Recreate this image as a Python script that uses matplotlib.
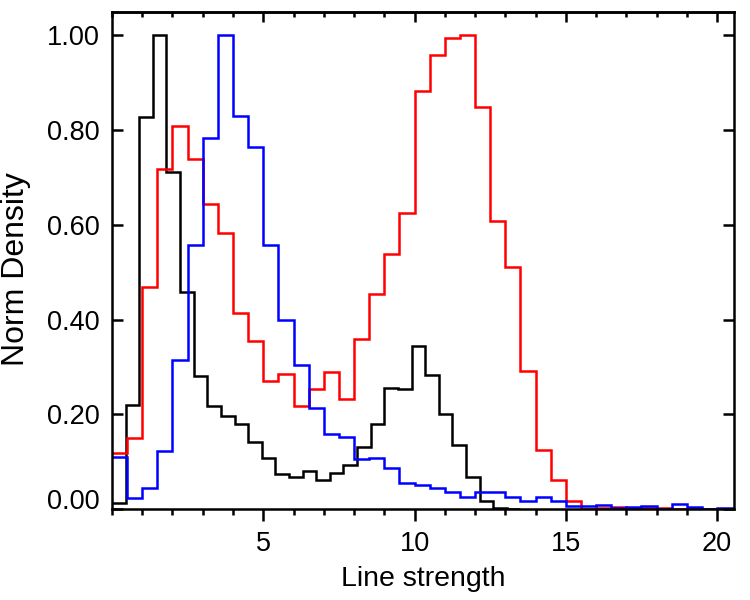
import numpy as np
import matplotlib
matplotlib.use("Agg")
import matplotlib.pyplot as plt
from matplotlib.ticker import MultipleLocator, FormatStrFormatter

plt.rcParams['font.family'] = ['Liberation Sans', 'DejaVu Sans']

# normalised histograms of line strength
black_width = 0.45
black_vals = [0.012, 0.220, 0.828, 1.0, 0.711, 0.459, 0.281, 0.218, 0.197, 0.180,
              0.142, 0.107, 0.074, 0.067, 0.081, 0.061, 0.077, 0.093, 0.130, 0.180,
              0.256, 0.253, 0.345, 0.283, 0.200, 0.136, 0.068, 0.016, 0.002, 0.001]

red_width = 0.5
red_vals = [0.118, 0.150, 0.469, 0.718, 0.809, 0.739, 0.645, 0.582, 0.413, 0.355,
            0.270, 0.286, 0.218, 0.253, 0.290, 0.232, 0.359, 0.454, 0.539, 0.624,
            0.883, 0.959, 0.994, 1.0, 0.849, 0.608, 0.511, 0.292, 0.125, 0.061,
            0.016, 0.0, 0.003, 0.005, 0.003, 0.003, 0.002, 0.0, 0.0, 0.0, 0.0]

blue_width = 0.5
blue_vals = [0.110, 0.023, 0.044, 0.122, 0.315, 0.558, 0.783, 1.0, 0.830, 0.765,
             0.558, 0.399, 0.305, 0.213, 0.158, 0.151, 0.105, 0.107, 0.086, 0.054,
             0.051, 0.045, 0.035, 0.026, 0.035, 0.035, 0.026, 0.017, 0.026, 0.017,
             0.006, 0.007, 0.009, 0.003, 0.005, 0.007, 0.0, 0.011, 0.004, 0.0,
             0.003, 0.003]

fig = plt.figure(figsize=(7.5, 6), dpi=100)
ax = fig.add_axes([0.1493, 0.1517, 0.8294, 0.8288])

for vals, w, col in [(black_vals, black_width, 'black'),
                     (red_vals, red_width, 'red'),
                     (blue_vals, blue_width, 'blue')]:
    edges = np.arange(len(vals) + 1) * w
    ax.stairs(vals, edges, baseline=None, color=col, lw=1.8)

ax.set_xlim(0, 20.56)
ax.set_ylim(0, 1.05)

for s in ax.spines.values():
    s.set_linewidth(1.8)

ax.set_xticks([5, 10, 15, 20])
ax.xaxis.set_minor_locator(MultipleLocator(1))
ax.set_yticks([0, 0.2, 0.4, 0.6, 0.8, 1.0])
ax.yaxis.set_major_formatter(FormatStrFormatter('%.2f'))

ax.tick_params(axis='x', which='major', direction='out', length=8.6, width=1.8,
               labelsize=19.5, pad=7, top=False)
ax.tick_params(axis='x', which='minor', direction='out', length=4.3, width=1.8, top=False)
ax.tick_params(axis='y', which='major', direction='in', length=8, width=1.8,
               labelsize=19.5, pad=8.6, left=True, right=True)

top = ax.secondary_xaxis('top')
top.set_xticks([5, 10, 15, 20])
top.xaxis.set_minor_locator(MultipleLocator(1))
top.tick_params(axis='x', which='major', direction='in', length=7.5, width=1.8, labeltop=False)
top.tick_params(axis='x', which='minor', direction='in', length=3.8, width=1.8)
top.spines['top'].set_linewidth(1.8)

ax.yaxis.get_major_ticks()[0].label1.set_verticalalignment('baseline')

ax.set_xlabel('Line strength', fontsize=20.5)
ax.xaxis.set_label_coords(0.501, -0.115)
ax.set_ylabel('Norm Density', fontsize=23)
ax.yaxis.set_label_coords(-0.130, 0.483)

fig.savefig('out.png', dpi=100)
